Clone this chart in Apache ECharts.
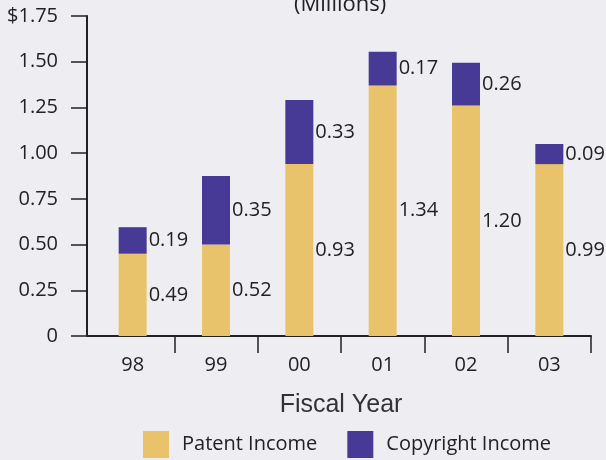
<!DOCTYPE html>
<html><head><meta charset="utf-8">
<script src="https://cdn.jsdelivr.net/npm/echarts@6/dist/echarts.min.js"></script>
<style>html,body{margin:0;padding:0;background:#EEEDF2}#c{width:606px;height:460px}</style>
</head><body><div id="c"></div>
<script>
const years = ['98','99','00','01','02','03'];
const patentIncome = [0.45, 0.50, 0.94, 1.37, 1.26, 0.94];
const copyrightIncome = [0.145, 0.375, 0.35, 0.185, 0.235, 0.11];
const patentLabels = ['0.49','0.52','0.93','1.34','1.20','0.99'];
const copyrightLabels = ['0.19','0.35','0.33','0.17','0.26','0.09'];
const yTickLabels = ['0','0.25','0.50','0.75','1.00','1.25','1.50','$1.75'];

const FONT = '"Open Sans", sans-serif';
const chart = echarts.init(document.getElementById('c'), null, {renderer:'canvas'});
chart.setOption({
  backgroundColor: '#EEEDF2',
  animation: false,
  textStyle: {fontFamily: FONT},
  title: {text: '(Millions)', left: 294, top: -6, padding: 0,
    textStyle: {fontFamily: FONT, fontSize: 22, fontWeight: 'normal', color: '#222'}},
  grid: {left: 91, right: 15, top: 16, bottom: 124},
  legend: {
    data: ['Patent Income','Copyright Income'],
    left: 143, top: 431, padding: 0, itemWidth: 26, itemHeight: 27, itemGap: 30,
    icon: 'rect',
    textStyle: {fontFamily: FONT, fontSize: 20, color: '#222', padding: [4,0,0,8]}
  },
  xAxis: {
    type: 'category', data: years,
    axisLine: {lineStyle: {color: '#222', width: 2}},
    axisTick: {show: true, length: 17, lineStyle: {color: '#222', width: 1.5},
      interval: function(i){ return i > 0; }},
    axisLabel: {fontFamily: FONT, fontSize: 20, color: '#222', margin: 19},
    name: 'Fiscal Year', nameLocation: 'middle', nameGap: 57,
    nameTextStyle: {fontFamily: '"Liberation Sans", Arial, sans-serif', fontSize: 25, color: '#333'}
  },
  yAxis: {
    type: 'value', min: 0, max: 1.75, interval: 0.25, offset: 4,
    axisLine: {show: true, lineStyle: {color: '#222', width: 2}},
    axisTick: {show: true, length: 16, lineStyle: {color: '#222', width: 1.5}},
    splitLine: {show: false},
    axisLabel: {fontFamily: FONT, fontSize: 20, color: '#222', margin: 29,
      formatter: function(v){ return yTickLabels[Math.round(v/0.25)]; }}
  },
  graphic: [{type:'line', shape:{x1:87,y1:336,x2:92,y2:336}, style:{stroke:'#222', lineWidth:2}}],
  series: [
    {name: 'Patent Income', type: 'bar', stack: 'a', data: patentIncome, barWidth: 28,
     itemStyle: {color: '#E9C26C'},
     label: {show: true, position: 'right', distance: 2, fontFamily: FONT, fontSize: 20, color: '#222',
       formatter: function(p){ return patentLabels[p.dataIndex]; }}},
    {name: 'Copyright Income', type: 'bar', stack: 'a', data: copyrightIncome, barWidth: 28,
     itemStyle: {color: '#473A97'},
     label: {show: true, position: 'right', distance: 2, fontFamily: FONT, fontSize: 20, color: '#222',
       formatter: function(p){ return copyrightLabels[p.dataIndex]; }}}
  ]
});
</script></body></html>
